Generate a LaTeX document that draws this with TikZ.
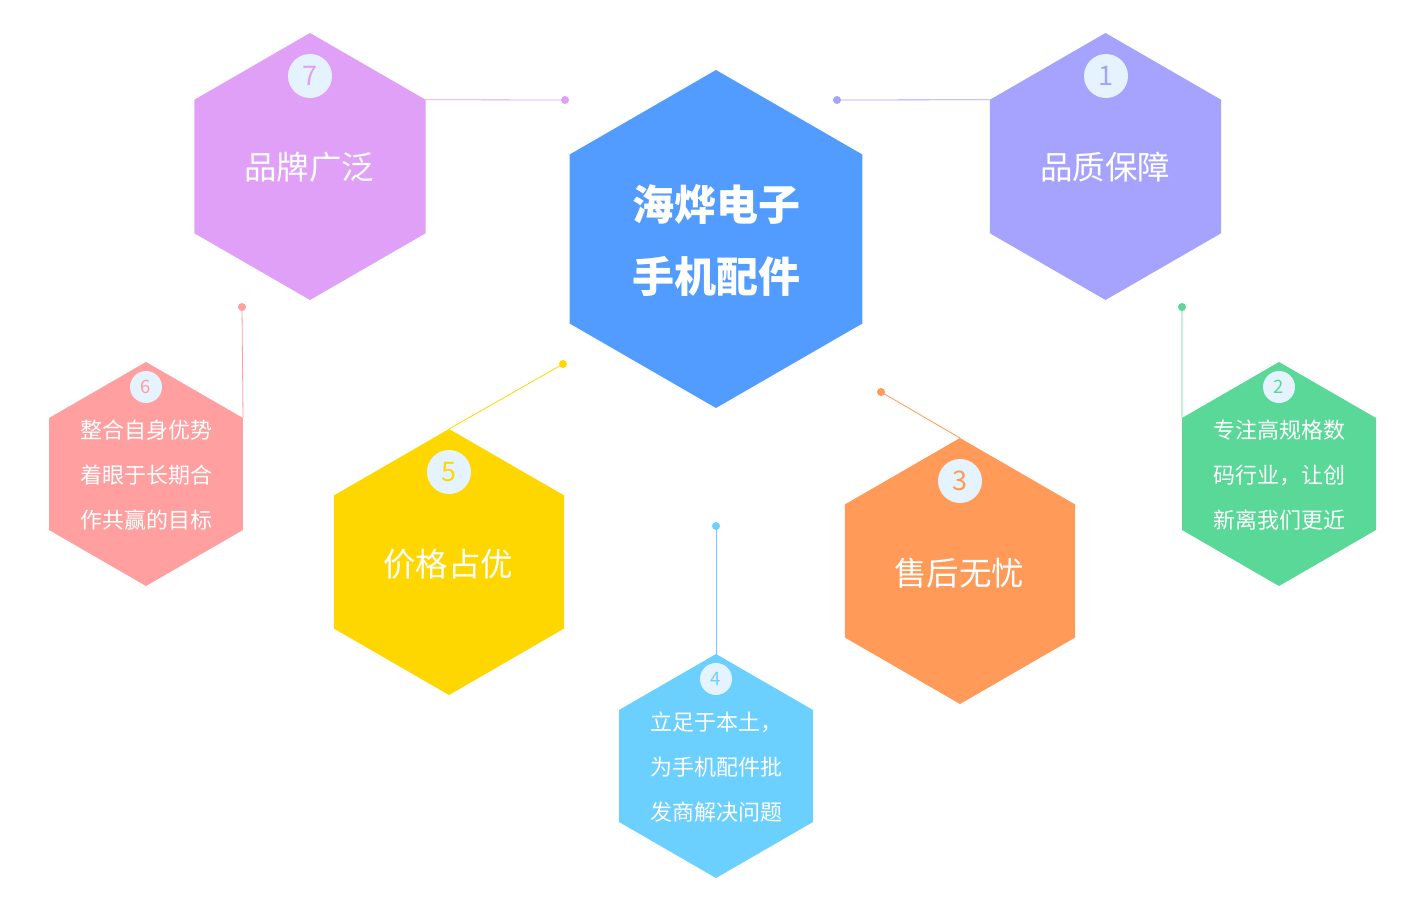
\documentclass[tikz,border=0pt]{standalone}
\usepackage{fontspec}
\setmainfont{Noto Sans CJK SC}
\newfontfamily\cjk{Noto Sans CJK SC}
\usetikzlibrary{calc}
\definecolor{cMain}{HTML}{539CFF}
\definecolor{cSeven}{HTML}{E0A0F8}
\definecolor{cOne}{HTML}{A6A3FE}
\definecolor{cSix}{HTML}{FF9F9F}
\definecolor{cTwo}{HTML}{5AD898}
\definecolor{cFive}{HTML}{FFD700}
\definecolor{cThree}{HTML}{FF9A58}
\definecolor{cFour}{HTML}{6CD0FF}
\definecolor{cCirc}{HTML}{E4F3FE}
\tikzset{
  numcirc/.style={circle, fill=cCirc, inner sep=0pt},
  bignum/.style={numcirc, minimum size=44pt, font=\cjk\fontsize{27}{27}\selectfont},
  smallnum/.style={numcirc, minimum size=32pt, font=\cjk\fontsize{18.5}{18.5}\selectfont},
  bigtxt/.style={text=white, font=\cjk\fontsize{32.5}{32.5}\selectfont},
  smalltxt/.style={text=white, font=\cjk\fontsize{22}{45}\selectfont, align=left},
  conn/.style={draw=#1, line width=0.8pt},
  enddot/.style={circle, fill=#1, inner sep=0pt, minimum size=8pt},
}
\begin{document}
\begin{tikzpicture}[x=1pt,y=-1pt]
\useasboundingbox (0,0) rectangle (1425,907);
\fill[white] (0,0) rectangle (1425,907);
\def\hex#1#2#3#4#5{% name cx cy r color
  \coordinate (#1) at (#2,#3);
  \fill[#5] ($(#1)+(0,-#4)$) -- ($(#1)+(0.8660254*#4,-0.5*#4)$) -- ($(#1)+(0.8660254*#4,0.5*#4)$) -- ($(#1)+(0,#4)$) -- ($(#1)+(-0.8660254*#4,0.5*#4)$) -- ($(#1)+(-0.8660254*#4,-0.5*#4)$) -- cycle;
  \coordinate (#1-t) at ($(#1)+(0,-#4)$);
  \coordinate (#1-ur) at ($(#1)+(0.8660254*#4,-0.5*#4)$);
  \coordinate (#1-ul) at ($(#1)+(-0.8660254*#4,-0.5*#4)$);
}
\hex{hm}{716}{239}{169}{cMain}
\hex{h7}{310}{166.5}{133.5}{cSeven}
\hex{h1}{1105.5}{166.5}{133.5}{cOne}
\hex{h6}{146}{474}{112}{cSix}
\hex{h2}{1279}{474}{112}{cTwo}
\hex{h5}{449}{562}{133}{cFive}
\hex{h3}{960}{571}{133}{cThree}
\hex{h4}{716}{766}{112}{cFour}

% end dots
\node[enddot=cSeven] (d7) at (565,100) {};
\node[enddot=cOne] (d1) at (837,100) {};
\node[enddot=cSix] (d6) at (242,307) {};
\node[enddot=cTwo] (d2) at (1182,307) {};
\node[enddot=cFive] (d5) at (563,364) {};
\node[enddot=cThree] (d3) at (881,392) {};
\node[enddot=cFour] (d4) at (716,526) {};

% connectors
\draw[conn=cSeven] (h7-ur) -- (d7.center);
\draw[conn=cOne] (h1-ul) -- (d1.center);
\draw[conn=cSix] (h6-ur) -- (d6.center);
\draw[conn=cTwo] (h2-ul) -- (d2.center);
\draw[conn=cFive] (h5-t) -- (d5.center);
\draw[conn=cThree] (h3-t) -- (d3.center);
\draw[conn=cFour] (h4-t) -- (d4.center);

% number circles
\node[bignum, text=cSeven] (n7) at (310,76) {7};
\node[bignum, text=cOne] (n1) at (1106,76) {1};
\node[bignum, text=cFive] (n5) at (449,472) {5};
\node[bignum, text=cThree] (n3) at (960,481) {3};
\node[smallnum, text=cSix] (n6) at (146,387) {6};
\node[smallnum, text=cTwo] (n2) at (1279,387) {2};
\node[smallnum, text=cFour] (n4) at (716,679) {4};

% texts
\node[text=white, font=\cjk\bfseries\fontsize{42}{72}\selectfont, align=center] (tm) at (716,241) {海烨电子\\手机配件};
\node[bigtxt] (t7) at (309,167) {品牌广泛};
\node[bigtxt] (t1) at (1105,167) {品质保障};
\node[bigtxt] (t5) at (448,564) {价格占优};
\node[bigtxt] (t3) at (959,573) {售后无忧};
\node[smalltxt] (t6) at (146,475) {整合自身优势\\着眼于长期合\\作共赢的目标};
\node[smalltxt] (t2) at (1279,475) {专注高规格数\\码行业，让创\\新离我们更近};
\node[smalltxt] (t4) at (716,767) {立足于本土，\\为手机配件批\\发商解决问题};
\end{tikzpicture}
\end{document}
